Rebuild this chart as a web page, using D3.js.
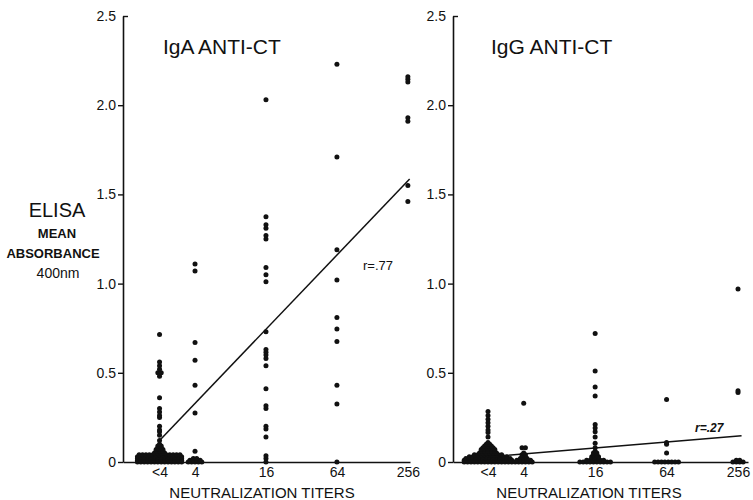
<!doctype html>
<html lang="en">
<head>
  <meta charset="utf-8">
  <script src="https://d3js.org/d3.v7.min.js"></script>
  <style>
    body { margin: 0; background: #fff; }
    text { font-family: "Liberation Sans", Arial, sans-serif; fill: #111; }
  </style>
</head>
<body>
  <script>
    var width = 753,
        height = 500;

    // titer categories (placed on a log2 scale, "<4" drawn at 2)
    var titerLabels = ["<4", "4", "16", "64", "256"];
    var titerLog2 = [1, 2, 4, 6, 8];
    var yTicks = [0, 0.5, 1, 1.5, 2, 2.5];

    // IgA anti-CT: [absorbance, number of sera with that value]
    var igaLt4 = [[0, 14], [0.01, 14], [0.02, 14], [0.03, 14], [0.04, 13], [0.05, 4], [0.06, 3],
                  [0.07, 3], [0.08, 2], [0.09, 2], [0.10, 1], [0.12, 1], [0.15, 1], [0.17, 1],
                  [0.18, 1], [0.20, 1], [0.25, 1], [0.26, 1], [0.28, 1], [0.30, 1], [0.36, 1],
                  [0.48, 1], [0.50, 2], [0.52, 1], [0.54, 1], [0.56, 1], [0.715, 1]];
    var iga4 = [[0, 5], [0.01, 4], [0.02, 2], [0.06, 1], [0.275, 1], [0.43, 1], [0.57, 1],
                [0.67, 1], [1.07, 1], [1.11, 1]];
    var iga16 = [[0, 1], [0.02, 1], [0.035, 1], [0.14, 1], [0.185, 1], [0.20, 1], [0.30, 1],
                 [0.315, 1], [0.41, 1], [0.54, 1], [0.58, 1], [0.60, 1], [0.615, 1], [0.63, 1],
                 [0.73, 1], [1.01, 1], [1.05, 1], [1.09, 1], [1.25, 1], [1.27, 1], [1.31, 1],
                 [1.33, 1], [1.375, 1], [2.03, 1]];
    var iga64 = [[0, 1], [0.325, 1], [0.43, 1], [0.675, 1], [0.745, 1], [0.81, 1], [1.02, 1],
                 [1.19, 1], [1.71, 1], [2.23, 1]];
    var iga256 = [[1.46, 1], [1.55, 1], [1.91, 1], [1.93, 1], [2.13, 1], [2.145, 1], [2.16, 1]];
    var igaFit = [-0.088, 0.208];   // intercept, slope per log2 titer

    // IgG anti-CT
    var iggLt4 = [[0, 15], [0.01, 15], [0.02, 14], [0.03, 12], [0.04, 9], [0.05, 6], [0.06, 5],
                  [0.07, 5], [0.08, 4], [0.09, 3], [0.10, 2], [0.11, 1], [0.14, 1], [0.165, 1],
                  [0.18, 1], [0.20, 1], [0.22, 1], [0.24, 1], [0.26, 1], [0.283, 1]];
    var igg4 = [[0, 6], [0.01, 5], [0.02, 3], [0.03, 2], [0.04, 2], [0.05, 1], [0.08, 2], [0.33, 1]];
    var igg16 = [[0, 10], [0.01, 6], [0.02, 3], [0.03, 3], [0.04, 2], [0.05, 2], [0.06, 1],
                 [0.08, 1], [0.105, 1], [0.14, 1], [0.17, 1], [0.19, 1], [0.21, 1], [0.37, 1],
                 [0.42, 1], [0.51, 1], [0.72, 1]];
    var igg64 = [[0, 8], [0.05, 1], [0.10, 1], [0.11, 1], [0.35, 1]];
    var igg256 = [[0, 4], [0.01, 2], [0.39, 1], [0.40, 1], [0.97, 1]];
    var iggFit = [0.011, 0.0168];

    var svg = d3.select("body").append("svg")
        .attr("width", width)
        .attr("height", height)
        .style("background-color", "#fff");

    var y = d3.scaleLinear().domain([0, 2.5]).range([462, 16]);

    function drawPanel(p) {
      var x = d3.scaleLinear().domain(p.xDomain).range(p.xRange);
      var g = svg.append("g");

      // y axis
      var ya = g.append("g")
          .attr("transform", "translate(" + p.xRange[0] + ",0)")
          .call(d3.axisLeft(y).tickValues(yTicks).tickSize(5).tickSizeOuter(0).tickPadding(2)
                .tickFormat(function(d) { return d === 0 ? "0" : d3.format(".1f")(d); }));
      ya.select(".domain").attr("stroke", "#111").attr("stroke-width", 1.6);
      ya.selectAll(".tick line").attr("stroke", "#111").attr("stroke-width", 1.4);
      ya.selectAll(".tick").filter(function(d) { return d === 2.5; })
          .select("line").attr("x2", 5);
      ya.selectAll(".tick text").style("font-size", "14px").attr("fill", "#111");

      // x axis
      var xa = g.append("g")
          .attr("transform", "translate(0," + y(0) + ")")
          .call(d3.axisBottom(x).tickValues(titerLog2).tickSize(0).tickSizeOuter(0).tickPadding(5)
                .tickFormat(function(d, i) { return titerLabels[i]; }));
      xa.select(".domain").attr("stroke", "#111").attr("stroke-width", 1.6);
      xa.selectAll(".tick text").style("font-size", "14px").attr("fill", "#111");

      g.append("text")
          .attr("x", p.xTitle).attr("y", 498)
          .attr("text-anchor", "middle")
          .style("font-size", "15px")
          .text("NEUTRALIZATION TITERS");

      g.append("text")
          .attr("x", p.titleX).attr("y", 54)
          .style("font-size", "21px")
          .text(p.title);

      // dots: equal values are set side by side around the titer position
      var pts = [];
      p.groups.forEach(function(grp, gi) {
        grp.forEach(function(row) {
          for (var i = 0; i < row[1]; i++) {
            pts.push({ t: titerLog2[gi], v: row[0], k: i - (row[1] - 1) / 2 });
          }
        });
      });
      g.selectAll("circle")
          .data(pts)
        .enter().append("circle")
          .attr("cx", function(d) { return x(d.t) + d.k * 3.4; })
          .attr("cy", function(d) { return y(d.v); })
          .attr("r", 2.5)
          .style("fill", "#111");

      // regression line
      var line = d3.line()
          .x(function(d) { return x(d); })
          .y(function(d) { return y(p.fit[0] + p.fit[1] * d); });
      g.append("path")
          .datum(p.fitRange)
          .attr("d", line)
          .attr("fill", "none")
          .attr("stroke", "#111")
          .attr("stroke-width", 1.5);

      g.append("text")
          .attr("x", p.rPos[0]).attr("y", p.rPos[1])
          .style("font-size", p.rSize)
          .style("font-weight", p.rWeight)
          .style("font-style", p.rStyle)
          .text(p.rText);
    }

    drawPanel({
      title: "IgA ANTI-CT", titleX: 163,
      xDomain: [-0.03, 8.06], xRange: [123, 410], xTitle: 262,
      groups: [igaLt4, iga4, iga16, iga64, iga256],
      fit: igaFit, fitRange: [1, 8.05],
      rText: "r=.77", rPos: [363, 270], rSize: "13px", rWeight: "normal", rStyle: "normal"
    });

    drawPanel({
      title: "IgG ANTI-CT", titleX: 491,
      xDomain: [0.02, 8.28], xRange: [453, 748], xTitle: 589,
      groups: [iggLt4, igg4, igg16, igg64, igg256],
      fit: iggFit, fitRange: [1, 8.1],
      rText: "r=.27", rPos: [695, 432], rSize: "12px", rWeight: "bold", rStyle: "italic"
    });

    // shared y label
    var lab = svg.append("g").attr("text-anchor", "middle");
    lab.append("text").attr("x", 57).attr("y", 217).style("font-size", "20px").text("ELISA");
    lab.append("text").attr("x", 57).attr("y", 238).style("font-size", "13px")
        .style("font-weight", "bold").text("MEAN");
    lab.append("text").attr("x", 53).attr("y", 258).style("font-size", "13px")
        .style("font-weight", "bold").text("ABSORBANCE");
    lab.append("text").attr("x", 58).attr("y", 278).style("font-size", "14px").text("400nm");
  </script>
</body>
</html>
